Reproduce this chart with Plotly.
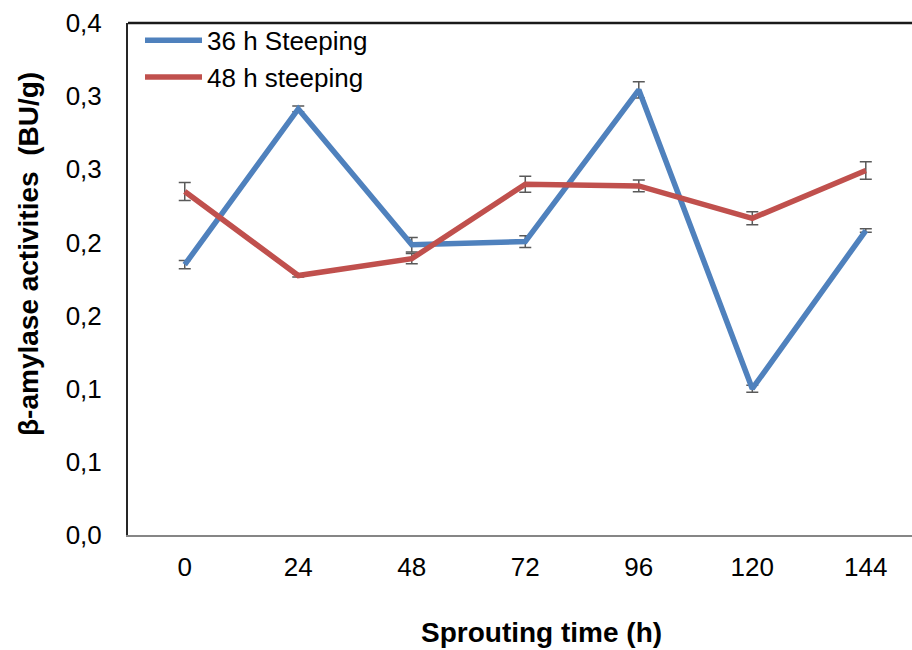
import plotly.graph_objects as go

# Sprouting time (h) categories
sprouting_time = ["0", "24", "48", "72", "96", "120", "144"]

# beta-amylase activity (BU/g) and standard deviations
steep36 = [0.1848, 0.2913, 0.1984, 0.2006, 0.3043, 0.1000, 0.2081]
steep36_err = [0.0028, 0.0020, 0.0050, 0.0040, 0.0055, 0.0024, 0.0012]
steep48 = [0.2348, 0.1774, 0.1889, 0.2398, 0.2386, 0.2165, 0.2492]
steep48_err = [0.0062, 0.0010, 0.0035, 0.0055, 0.0040, 0.0045, 0.0060]

# y-axis ticks (labels shown with one decimal, comma separator)
y_tickvals = [0.0, 0.05, 0.10, 0.15, 0.20, 0.25, 0.30, 0.35]
y_ticktext = ["0,0", "0,1", "0,1", "0,2", "0,2", "0,3", "0,3", "0,4"]

xpos = list(range(len(sprouting_time)))
FONT = "Liberation Sans, Arial, sans-serif"
ERR_COLOR = "#595959"

fig = go.Figure()
fig.add_trace(go.Scatter(
    x=xpos, y=steep36, mode="lines", name="36 h Steeping",
    line=dict(color="#4F81BD", width=5.5),
    error_y=dict(type="data", array=steep36_err, color=ERR_COLOR, thickness=1.5, width=6),
))
fig.add_trace(go.Scatter(
    x=xpos, y=steep48, mode="lines", name="48 h steeping",
    line=dict(color="#C0504D", width=5.5),
    error_y=dict(type="data", array=steep48_err, color=ERR_COLOR, thickness=1.5, width=6),
))

fig.update_layout(
    width=912, height=650,
    margin=dict(l=128, r=0, t=23, b=115),
    paper_bgcolor="white", plot_bgcolor="white",
    font=dict(family=FONT, color="black", size=26),
    showlegend=True,
    legend=dict(
        x=(140 - 128) / 784, y=1.012, xanchor="left", yanchor="top",
        bgcolor="rgba(0,0,0,0)", font=dict(size=26, family=FONT),
        tracegroupgap=0, itemwidth=57,
    ),
    xaxis=dict(
        range=[-0.5, 6.407],
        tickmode="array", tickvals=xpos, ticktext=sprouting_time,
        showline=True, linecolor="#868686", linewidth=2,
        showgrid=False, zeroline=False,
        ticks="outside", ticklen=8, tickcolor="rgba(0,0,0,0)",
        tickfont=dict(size=26, family=FONT),
    ),
    yaxis=dict(
        range=[0, 0.35],
        tickmode="array", tickvals=y_tickvals, ticktext=y_ticktext,
        showline=True, linecolor="#262626", linewidth=2,
        showgrid=False, zeroline=False,
        ticks="outside", ticklen=19, tickcolor="rgba(0,0,0,0)",
        tickfont=dict(size=26, family=FONT),
    ),
    shapes=[dict(
        type="line", xref="paper", yref="paper", x0=0, x1=1, y0=1, y1=1,
        line=dict(color="#1a1a1a", width=2.5),
    )],
    annotations=[
        dict(
            text="<b>Sprouting time (h)</b>", xref="paper", yref="paper",
            x=(541 - 128) / 784, y=-(632 - 535) / 512,
            xanchor="center", yanchor="middle", showarrow=False,
            font=dict(size=28, family=FONT),
        ),
        dict(
            text="<b>β-amylase activities  (BU/g)</b>", xref="paper", yref="paper",
            x=-(128 - 28) / 784, y=(535 - 254) / 512,
            xanchor="center", yanchor="middle", showarrow=False, textangle=-90,
            font=dict(size=28, family=FONT),
        ),
    ],
)

fig.write_html("out.html")
